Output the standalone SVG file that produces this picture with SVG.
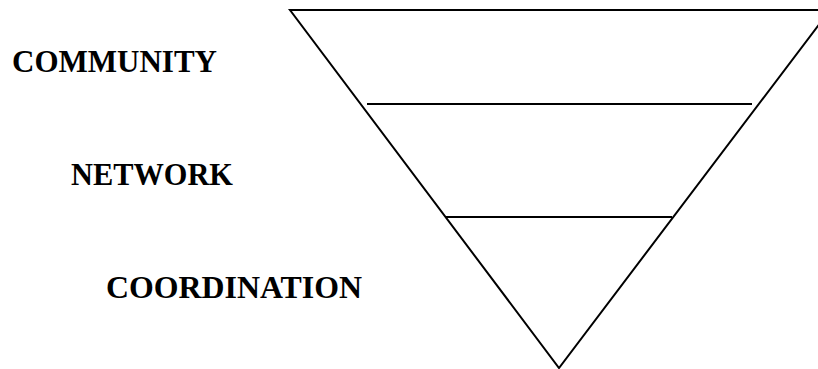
<svg xmlns="http://www.w3.org/2000/svg" width="818" height="369" viewBox="0 0 818 369">
<style>
.ln{stroke:#000;stroke-width:2;fill:none}
.lbl{font-family:"Liberation Serif","Times New Roman",serif;font-weight:bold;font-size:31px;fill:#000}
</style>
<rect width="818" height="369" fill="#fff"/>
<g id="funnel">
<polygon class="ln" points="290,10 830,10 559,368"/>
</g>
<g id="connectors">
<line class="ln" x1="367" y1="104" x2="752" y2="104"/>
<line class="ln" x1="445" y1="217" x2="672" y2="217"/>
</g>
<g id="community"><text class="lbl" x="12" y="72" textLength="205" lengthAdjust="spacingAndGlyphs">COMMUNITY</text></g>
<g id="network"><text class="lbl" x="71" y="185" textLength="162" lengthAdjust="spacingAndGlyphs">NETWORK</text></g>
<g id="coordination"><text class="lbl" x="106" y="298" textLength="256" lengthAdjust="spacingAndGlyphs">COORDINATION</text></g>
</svg>
